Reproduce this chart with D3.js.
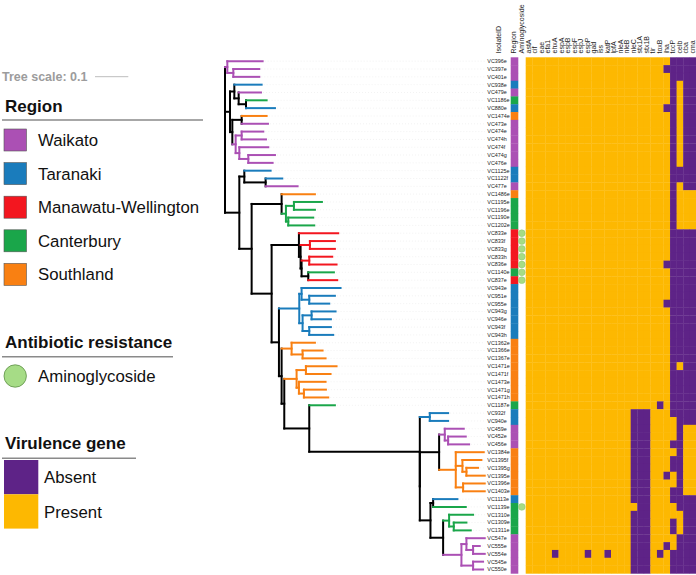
<!DOCTYPE html>
<html><head><meta charset="utf-8">
<script src="https://cdn.jsdelivr.net/npm/d3@7"></script>
<style>body{margin:0;background:#fff}svg{display:block;font-family:"Liberation Sans",Arial,Helvetica,sans-serif}</style>
</head><body><svg id="chart" width="696" height="575"></svg>
<script>
// ---------------- DATA ----------------
const newick = "((VC396e:0.106,(VC397e:0.078,VC401e:0.078):0.018):0.007," +
 "((VC938e:0.082,(VC479e:0.067,(VC1186e:0.062,VC880e:0.087):0.022):0.013):0.013,((VC1474e:0.075,VC473e:0.079):0.028,((VC474e:0.065,VC474h:0.073):0.018,(VC474f:0.087,(VC474g:0.080,VC476e:0.073):0.027):0.011):0.010):0.007):0.015," +
 "((VC1125e:0.079,(VC1122f:0.050,VC477e:0.096):0.064):0.015," +
 "((VC1486e:0.100,((VC1195e:0.084,VC1196e:0.063):0.024,(VC1190e:0.075,VC1202e:0.078):0.007):0.013):0.090," +
 "((VC833e:0.118,((VC833f:0.075,VC833g:0.075):0.028,((VC833h:0.069,VC836e:0.082):0.023,(VC1140e:0.077,VC837e:0.087):0.020):0.003):0.005):0.082," +
 "(((VC943e:0.117,(VC951e:0.077,VC955e:0.060):0.023):0.007,((VC943g:0.072,VC946e:0.058):0.027,(VC943f:0.065,VC943h:0.072):0.020):0.010):0.061," +
 "((VC1362e:0.070,(VC1366e:0.060,VC1367e:0.069):0.033):0.030," +
 "(((VC1471e:0.092,VC1471f:0.074):0.028,(VC1473e:0.080,(VC1471g:0.066,VC1471h:0.073):0.015):0.007):0.037," +
 "(VC1187e:0.077," +
 "((VC932f:0.055,VC940e:0.055):0.030,(" +
 "((VC459e:0.057,(VC452e:0.053,VC456e:0.063):0.010):0.017,(VC1384e:0.084,(VC1395f:0.057,(VC1395g:0.035,VC1395e:0.055):0.012):0.020,(VC1396e:0.065,VC1403e:0.065):0.022):0.050):0.058," +
 "((VC1113e:0.073,VC1139e:0.098):0.008,((VC1310e:0.072,(VC1309e:0.038,VC1311e:0.051):0.014):0.018,((VC547e:0.055,(VC555e:0.020,VC554e:0.035):0.020):0.015,(VC545e:0.030,VC550e:0.030):0.035):0.055):0.038):0.032" +
 "):0):0.332):0.075):0.008):0.008):0.022):0.060):0.037):0.043);";

const isolates = ["VC396e","VC397e","VC401e","VC938e","VC479e","VC1186e","VC880e","VC1474e","VC473e","VC474e",
 "VC474h","VC474f","VC474g","VC476e","VC1125e","VC1122f","VC477e","VC1486e","VC1195e","VC1196e",
 "VC1190e","VC1202e","VC833e","VC833f","VC833g","VC833h","VC836e","VC1140e","VC837e","VC943e",
 "VC951e","VC955e","VC943g","VC946e","VC943f","VC943h","VC1362e","VC1366e","VC1367e","VC1471e",
 "VC1471f","VC1473e","VC1471g","VC1471h","VC1187e","VC932f","VC940e","VC459e","VC452e","VC456e",
 "VC1384e","VC1395f","VC1395g","VC1395e","VC1396e","VC1403e","VC1113e","VC1139e","VC1310e","VC1309e",
 "VC1311e","VC547e","VC555e","VC554e","VC545e","VC550e"];

const regions = ["Waikato","Taranaki","Manawatu-Wellington","Canterbury","Southland"];
const regionColors = ["#ab50b4","#1a7cbc","#f3161f","#1aa64a","#f98012"];
// region index of each isolate (same order as isolates)
const isolateRegion = [0,0,0,1,0,3,1,4,0,0, 0,0,0,0,1,1,0,4,3,3, 3,3,2,2,2,2,2,3,2,1,
 1,1,1,1,1,1,4,4,4,4, 4,4,4,4,3,1,1,0,0,0, 4,4,4,4,4,4,1,3,3,3, 3,0,0,0,0,0];

const aminoglycoside = ["VC833e","VC833f","VC833g","VC833h","VC836e","VC1140e","VC837e","VC1139e"];

const genes = ["astA","cif","eae","efa1","ehxA","espA","espB","espF","espJ","espP","gad","iss","katP","lpfA",
 "nleA","nleB","nleC","stx1A","stx1B","tir","toxB","iha","tccP","celb","cba","cma"];
// 1 = present, 0 = absent ; one string per isolate, one character per gene
const geneProfiles = [
 "11111111111111111111110000","11111111111111111111100000","11111111111111111111110000",
 "11111111111111111111110100","11111111111111111111110100","11111111111111111111110100",
 "11111111111111111111100100","11111111111111111111110100","11111111111111111111110100",
 "11111111111111111111110100","11111111111111111111110100","11111111111111111111110100",
 "11111111111111111111110100","11111111111111111111110100","11111111111111111111110000",
 "11111111111111111111110000","11111111111111111111110100","11111111111111111111110111",
 "11111111111111111111110111","11111111111111111111110111","11111111111111111111110111",
 "11111111111111111111110111","11111111111111111111110000","11111111111111111111110000",
 "11111111111111111111110000","11111111111111111111110000","11111111111111111111100000",
 "11111111111111111111110000","11111111111111111111110000","11111111111111111111110000",
 "11111111111111111111110000","11111111111111111111100000","11111111111111111111110000",
 "11111111111111111111110000","11111111111111111111110000","11111111111111111111110000",
 "11111111111111111111110000","11111111111111111111110000","11111111111111111111110000",
 "11111111111111111111110100","11111111111111111111110000","11111111111111111111110000",
 "11111111111111111111110000","11111111111111111111110000","11111111111111111111010000",
 "11111111111111110001110000","11111111111111110001111000","11111111111111110001111011",
 "11111111111111110001111011","11111111111111110001110011","11111111111111110001111011",
 "11111111111111110001110011","11111111111111110001110011","11111111111111110001101011",
 "11111111111111110001111011","11111111111111110001110011","11111111111111110001110000",
 "11111111111111111001111000","11111111111111110001111100","11111111111111110001110100",
 "11111111111111110001110100","11111111111111110001111000","11111111111111110001101000",
 "11110111101101110001010000","11111111111111110001110000","11111111111111110001110000"];

const virulenceStates = ["Absent","Present"];
const virulenceColors = ["#5e2387","#fdb801"];
const treeScaleValue = 0.1;

// ---------------- HELPERS ----------------
function parseNewick(s){
  let i = 0;
  function node(){
    const n = {};
    if (s[i] === "("){
      i++; n.children = [];
      while (true){
        n.children.push(node());
        if (s[i] === ","){ i++; continue; }
        if (s[i] === ")"){ i++; break; }
      }
    }
    let name = "";
    while (i < s.length && !",():;".includes(s[i])) name += s[i++];
    n.name = name;
    n.length = 0;
    if (s[i] === ":"){ i++; let num = ""; while (i < s.length && !",();".includes(s[i])) num += s[i++]; n.length = +num; }
    return n;
  }
  return node();
}

const svg = d3.select("#chart");
const regionOf = new Map(isolates.map((d,i)=>[d, isolateRegion[i]]));

// ---------------- SCALES ----------------
const y = d3.scaleBand().domain(isolates).range([57.3, 573.4]).padding(0);
const xTree = d3.scaleLinear().domain([0, treeScaleValue]).range([225, 258.3]);
const xGene = d3.scaleBand().domain(genes).range([525.7, 696.3]).padding(0);
const regionColor = d3.scaleOrdinal().domain(d3.range(regions.length)).range(regionColors);

// ---------------- TREE ----------------
const root = d3.hierarchy(parseNewick(newick));
root.eachBefore(d => d.dist = d.parent ? d.parent.dist + d.data.length : 0);
root.eachAfter(d => {
  if (!d.children){ d.yy = y(d.data.name) + y.bandwidth()/2; d.region = regionOf.get(d.data.name); }
  else {
    d.yy = (d.children[0].yy + d.children[d.children.length-1].yy)/2;
    const r = d.children[0].region;
    d.region = d.children.every(c => c.region === r && r !== null) ? r : null;
  }
});
const col = d => d.region === null ? "#000" : regionColor(d.region);

const gTree = svg.append("g");
// guide dotted lines
gTree.selectAll("line.guide").data(root.leaves()).join("line")
  .attr("x1", d => xTree(d.dist) + 2).attr("x2", 485)
  .attr("y1", d => d.yy).attr("y2", d => d.yy)
  .attr("stroke", "#e4e4e4").attr("stroke-width", 0.5).attr("stroke-dasharray", "1,2");
const internal = root.descendants().filter(d => d.children);
const sorted = internal.slice().sort((a,b)=> (a.region===null?0:1) - (b.region===null?0:1));
gTree.selectAll("line.v").data(sorted).join("line")
  .attr("x1", d => xTree(d.dist)).attr("x2", d => xTree(d.dist))
  .attr("y1", d => d.children[0].yy).attr("y2", d => d.children[d.children.length-1].yy)
  .attr("stroke", col).attr("stroke-width", 2).attr("stroke-linecap", "square");
gTree.selectAll("line.h").data(root.descendants().filter(d => d.parent)).join("line")
  .attr("x1", d => xTree(d.parent.dist)).attr("x2", d => xTree(d.dist))
  .attr("y1", d => d.yy).attr("y2", d => d.yy)
  .attr("stroke", col).attr("stroke-width", 2).attr("stroke-linecap", "square");

// ---------------- LABELS & STRIPS ----------------
svg.append("g").selectAll("text").data(isolates).join("text")
  .attr("x", 487.3).attr("y", d => y(d) + y.bandwidth()/2).attr("dy", "0.35em")
  .attr("font-size", 5.4).attr("fill", "#222").text(d => d);

svg.append("g").selectAll("rect").data(isolates).join("rect")
  .attr("x", 510.7).attr("width", 7.6).attr("y", d => y(d)).attr("height", y.bandwidth() + 0.3)
  .attr("fill", d => regionColor(regionOf.get(d)));

svg.append("g").selectAll("circle").data(aminoglycoside).join("circle")
  .attr("cx", 521.8).attr("cy", d => y(d) + y.bandwidth()/2).attr("r", 3.4)
  .attr("fill", "#a6dc86").attr("stroke", "#8cc86e").attr("stroke-width", 0.5);

// heatmap
const cells = [];
isolates.forEach((iso, i) => genes.forEach((g, j) => cells.push({iso, g, v: +geneProfiles[i][j]})));
svg.append("g").selectAll("rect").data(cells).join("rect")
  .attr("x", d => xGene(d.g)).attr("y", d => y(d.iso))
  .attr("width", xGene.bandwidth() + 0.3).attr("height", y.bandwidth() + 0.3)
  .attr("fill", d => virulenceColors[d.v]);

// headers
const hdr = svg.append("g").attr("font-size", 7).attr("fill", "#222");
const headers = [{t:"IsolateID", x:501.3},{t:"Region", x:516.3},{t:"Aminoglycoside", x:524}]
  .concat(genes.map(g => ({t:g, x: xGene(g) + xGene.bandwidth()/2 + 1.8})));
hdr.selectAll("text").data(headers).join("text")
  .attr("transform", d => `translate(${d.x},53.5) rotate(-90)`).text(d => d.t);

// ---------------- LEGEND ----------------
const lg = svg.append("g");
lg.append("text").attr("x", 2).attr("y", 81).attr("font-size", 12.5).attr("font-weight", "bold")
  .attr("fill", "#9c9c9c").text("Tree scale: " + treeScaleValue);
lg.append("line").attr("x1", 95).attr("x2", 95 + xTree(treeScaleValue) - xTree(0))
  .attr("y1", 76.7).attr("y2", 76.7).attr("stroke", "#bdbdbd").attr("stroke-width", 1);

function title(t, yb, x2, yl){
  lg.append("text").attr("x", 5).attr("y", yb).attr("font-size", 17).attr("font-weight", "bold").attr("fill", "#111").text(t);
  lg.append("line").attr("x1", 2).attr("x2", x2).attr("y1", yl).attr("y2", yl).attr("stroke", "#8a8a8a").attr("stroke-width", 1.4);
}
title("Region", 111.7, 203, 120);
regions.forEach((r, i) => {
  const yt = 129 + i * 33.6;
  lg.append("rect").attr("x", 4).attr("y", yt).attr("width", 22.5).attr("height", 22)
    .attr("fill", regionColors[i]).attr("stroke", "#555").attr("stroke-width", 0.6);
  lg.append("text").attr("x", 38).attr("y", yt + 17).attr("font-size", 16.8).attr("fill", "#111").text(r);
});
title("Antibiotic resistance", 348.3, 173, 356.7);
lg.append("circle").attr("cx", 15.2).attr("cy", 376).attr("r", 11.2)
  .attr("fill", "#a6dc86").attr("stroke", "#5e8f48").attr("stroke-width", 0.8);
lg.append("text").attr("x", 38).attr("y", 381.7).attr("font-size", 16.8).attr("fill", "#111").text("Aminoglycoside");
title("Virulence gene", 449, 136, 458.3);
virulenceStates.forEach((s, i) => {
  const yt = 460 + i * 34.3;
  lg.append("rect").attr("x", 4).attr("y", yt).attr("width", 34.3).attr("height", 34.3).attr("fill", virulenceColors[i]);
  lg.append("text").attr("x", 44).attr("y", yt + 23.3).attr("font-size", 16.8).attr("fill", "#111").text(s);
});
</script></body></html>
